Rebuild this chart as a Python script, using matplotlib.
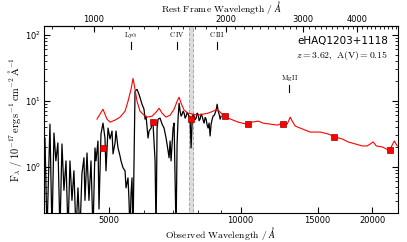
import matplotlib
matplotlib.use('Agg')
import matplotlib.pyplot as plt
from matplotlib import ticker

plt.rcParams['mathtext.fontset'] = 'cm'
plt.rcParams['font.family'] = 'DejaVu Sans'

# Object info
name = 'eHAQ1203+1118'
redshift = 3.62
av = 0.15

# Observed spectrum (Angstrom, 1e-17 erg/s/cm2/A)
spec_wave = [3569, 3607, 3664, 3703, 3742, 3780, 3820, 3862, 3903, 3944,
             3987, 4029, 4071, 4114, 4157, 4202, 4246, 4291, 4336, 4382,
             4406, 4453, 4499, 4548, 4596, 4644, 4669, 4718, 4743, 4793,
             4844, 4895, 4921, 4974, 5027, 5080, 5107, 5161, 5188, 5243,
             5298, 5326, 5382, 5440, 5469, 5526, 5555, 5585, 5614, 5644,
             5674, 5704, 5734, 5795, 5856, 5949, 6012, 6045, 6077, 6141,
             6174, 6239, 6272, 6305, 6372, 6406, 6440, 6474, 6542, 6611,
             6681, 6752, 6824, 6860, 6896, 6932, 6969, 7006, 7043, 7117,
             7155, 7193, 7231, 7270, 7308, 7347, 7386, 7425, 7464, 7503,
             7543, 7583, 7623, 7663, 7703, 7744, 7785, 7826, 7867, 7909,
             7950, 7992, 8034, 8077, 8120, 8163, 8206, 8249, 8293, 8337,
             8381, 8425, 8469, 8514, 8559, 8604, 8649, 8695, 8742, 8788,
             8835, 8882, 8929, 8975, 9023]
spec_flux = [2.73, 0.10, 4.43, 0.10, 3.25, 1.23, 2.30, 0.10, 2.22, 0.44,
             1.23, 0.10, 1.23, 0.31, 0.87, 0.10, 0.48, 0.10, 0.79, 1.37,
             0.31, 1.62, 0.31, 1.23, 0.10, 1.93, 1.23, 2.46, 0.23, 3.14,
             4.59, 2.73, 0.87, 3.86, 2.64, 3.48, 1.57, 2.30, 3.48, 1.93,
             1.46, 1.23, 0.97, 0.87, 0.48, 0.68, 0.31, 0.10, 0.39, 0.68,
             0.10, 1.23, 13.9, 14.9, 12.5, 8.86, 7.45, 5.27, 5.85, 2.73,
             3.48, 3.86, 4.59, 4.43, 1.23, 0.10, 3.86, 5.27, 5.46, 4.43,
             3.86, 2.73, 1.74, 1.37, 2.46, 1.23, 2.22, 3.86, 4.59, 0.10,
             2.22, 5.46, 9.17, 6.95, 5.85, 6.27, 6.95, 6.49, 5.46, 5.85,
             6.60, 6.27, 5.60, 5.27, 1.93, 4.92, 6.20, 5.85, 5.20, 5.46,
             6.50, 6.27, 5.00, 5.27, 6.30, 5.85, 5.10, 4.59, 5.60, 5.27,
             4.30, 3.86, 4.60, 2.93, 4.43, 5.20, 5.85, 6.00, 6.49, 7.20,
             8.86, 6.95, 6.27, 5.27, 5.85]

# Reddened quasar model
model_wave = [4693, 4768, 4844, 4895, 4947, 5027, 5161, 5298, 5440, 5526,
              5614, 5674, 5734, 5795, 5887, 6012, 6109, 6272, 6406, 6508,
              6611, 6752, 6896, 7043, 7155, 7231, 7308, 7425, 7583, 7785,
              7992, 8206, 8425, 8649, 8835, 8975, 9165, 9362, 9611, 9867,
              10078, 10345, 10621, 10964, 11256, 11680, 12117, 12506, 12777, 12980,
              13118, 13326, 13680, 14045, 14420, 14805, 15200, 15852, 16448, 17069,
              17613, 18275, 18969, 19471, 20095, 20415, 21071, 21749, 22096, 22448,
              22809]
model_flux = [5.27, 6.27, 7.45, 6.27, 5.27, 4.75, 5.09, 5.65, 6.95, 9.83,
              14.9, 21.8, 14.9, 9.83, 6.95, 6.05, 5.65, 5.85, 6.72, 7.71,
              6.49, 5.65, 6.05, 7.45, 9.83, 11.3, 9.17, 7.20, 6.49, 6.27,
              6.05, 6.27, 6.49, 6.95, 7.45, 6.72, 5.85, 5.46, 5.09, 4.75,
              4.59, 4.43, 4.75, 4.92, 4.59, 4.43, 4.28, 4.59, 4.43, 5.65,
              4.92, 4.14, 3.86, 3.60, 3.36, 3.36, 3.36, 3.14, 2.83, 2.64,
              2.38, 2.22, 2.07, 2.07, 2.38, 2.07, 2.00, 1.80, 2.00, 2.46,
              2.07]

# Photometry
phot_wave = [4844, 6305, 7703, 9214, 10385, 12525, 16360, 21980]
phot_flux = [1.93, 4.75, 5.27, 5.85, 4.48, 4.39, 2.80, 1.82]

# Emission lines (rest frame)
line_names = [r'$\mathrm{Ly\alpha}$', r'$\mathrm{C\,IV}$', r'$\mathrm{C\,III}$', r'$\mathrm{Mg\,II}$']
line_rest = [1216, 1549, 1909, 2798]
line_level = [70, 70, 70, 15.5]

fig = plt.figure(figsize=(4.07, 2.42), dpi=100)
ax = fig.add_axes([0.108, 0.12, 0.870, 0.772])

ax.axvspan(7610, 7790, facecolor='#dcdcdc', edgecolor='#a8a8a8',
           linestyle='--', linewidth=0.7, zorder=0)
ax.plot(spec_wave, spec_flux, color='k', linewidth=0.9, zorder=2)
ax.plot(model_wave, model_flux, color='red', linewidth=0.8, zorder=3)
ax.plot(phot_wave, phot_flux, linestyle='none', marker='s', markersize=4.5,
        color='red', markeredgecolor='#a00000', markeredgewidth=0.5, zorder=4)

for lname, lrest, lev in zip(line_names, line_rest, line_level):
    lobs = lrest * (1 + redshift)
    ax.plot([lobs, lobs], [lev * 0.88, lev * 1.12], color='k', linewidth=0.8)
    ax.text(lobs, lev * 1.42, lname, ha='center', va='center', fontsize=5)

ax.text(0.972, 0.92, name, transform=ax.transAxes, ha='right', va='center',
        fontsize=7.5)
ax.text(0.972, 0.845, r'$z = 3.62,\ \mathrm{A(V)} = 0.15$', transform=ax.transAxes,
        ha='right', va='center', fontsize=7)

ax.set_xscale('log')
ax.set_yscale('log')
ax.set_xlim(3550, 22900)
ax.set_ylim(0.2, 135)

ax.set_xticks([5000, 10000, 15000, 20000], labels=['5000', '10000', '15000', '20000'])
ax.xaxis.set_minor_locator(ticker.LogLocator(subs='all', numticks=20))
ax.xaxis.set_minor_formatter(ticker.NullFormatter())
ax.yaxis.set_minor_formatter(ticker.NullFormatter())
ax.tick_params(which='both', direction='in', top=False, right=True, labelsize=6, pad=2)
ax.tick_params(which='major', length=4)
ax.tick_params(which='minor', length=2)

ax.set_xlabel(r'$\mathrm{Observed\ Wavelength\ /\ }\AA$', fontsize=7, labelpad=0)
ax.set_ylabel(r'$\mathrm{F_\lambda\ /\ 10^{-17}\,erg\,s^{-1}\,cm^{-2}\,\AA^{-1}}$',
              fontsize=7.5, labelpad=1)

secax = ax.secondary_xaxis('top', functions=(lambda x: x / (1 + redshift),
                                              lambda x: x * (1 + redshift)))
secax.set_xticks([1000, 2000, 3000, 4000], labels=['1000', '2000', '3000', '4000'])
secax.xaxis.set_minor_locator(ticker.MultipleLocator(100))
secax.xaxis.set_minor_formatter(ticker.NullFormatter())
secax.tick_params(which='both', direction='in', labelsize=6, pad=1.5)
secax.tick_params(which='major', length=4)
secax.tick_params(which='minor', length=2)
secax.set_xlabel(r'$\mathrm{Rest\ Frame\ Wavelength\ /\ }\AA$', fontsize=7, labelpad=2.5)

fig.savefig('out.png', dpi=100)
